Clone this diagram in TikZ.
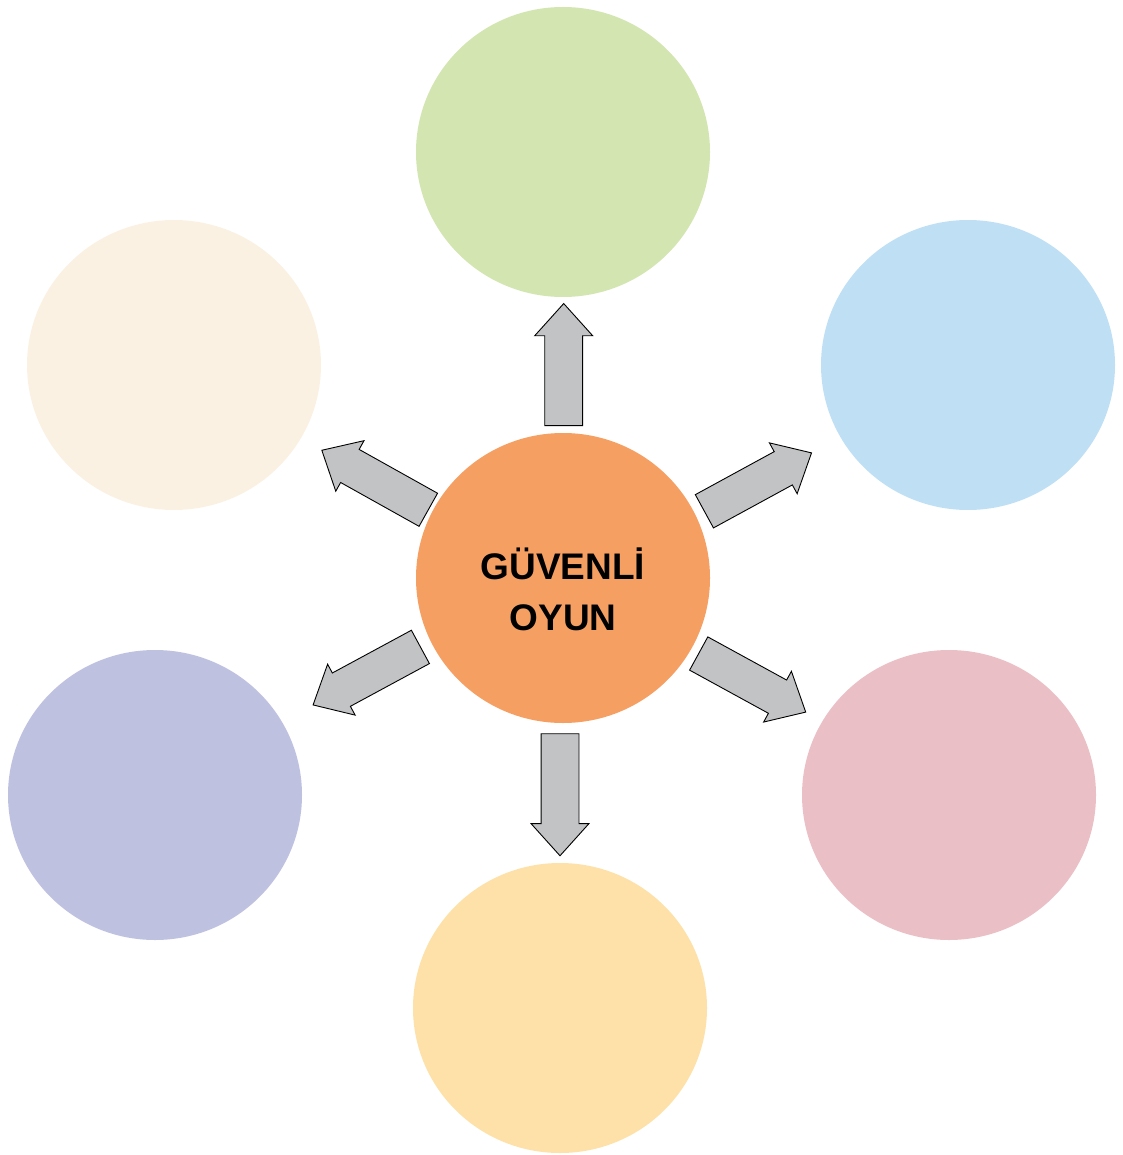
\documentclass[tikz,border=0pt]{standalone}
\usepackage{fontspec}
\setmainfont{Liberation Sans}
\usetikzlibrary{shapes.geometric,shapes.arrows}
\definecolor{cgreen}{HTML}{D3E5B1}
\definecolor{cblue}{HTML}{BFE0F4}
\definecolor{ccream}{HTML}{FAF1E3}
\definecolor{clav}{HTML}{BFC1E0}
\definecolor{cpink}{HTML}{EAC0C6}
\definecolor{cyell}{HTML}{FDE1A9}
\definecolor{corange}{HTML}{F69F62}
\definecolor{carrow}{HTML}{C2C3C5}
\tikzset{
  bubble/.style={ellipse, minimum width=294pt, minimum height=290pt, inner sep=0pt, draw=none},
  blockarrow/.style={single arrow, draw=black, line width=0.9pt, fill=carrow, anchor=tail,
    minimum height=122pt, inner xsep=0pt, inner ysep=18.5pt, single arrow head extend=10pt,
    single arrow tip angle=84},
  title/.style={align=center, font=\bfseries\fontsize{37}{51}\selectfont, inner sep=0pt}
}
\begin{document}
\begin{tikzpicture}[x=1pt,y=-1pt]
\useasboundingbox (0,0) rectangle (1122,1155);
\node[bubble, fill=cgreen] (top) at (563,152) {};
\node[bubble, fill=cblue] (tr) at (968,365) {};
\node[bubble, fill=ccream] (tl) at (174,365) {};
\node[bubble, fill=clav] (bl) at (155,795) {};
\node[bubble, fill=cpink] (br) at (949,795) {};
\node[bubble, fill=cyell] (bot) at (560,1008) {};
\node[bubble, fill=corange] (center) at (563,578) {};
\node[title] (label) at (563,589) {GÜVENLİ\\OYUN};
\node[blockarrow, rotate=90] (aup) at (563.7,426) {};
\node[blockarrow, rotate=28.6] (aur) at (704,511.5) {};
\node[blockarrow, rotate=150.8] (aul) at (428.7,510) {};
\node[blockarrow, rotate=208.4] (adl) at (420.8,646.7) {};
\node[blockarrow, rotate=-28.7] (adr) at (698.3,653.3) {};
\node[blockarrow, rotate=-90] (adn) at (560,733.3) {};
\end{tikzpicture}
\end{document}
